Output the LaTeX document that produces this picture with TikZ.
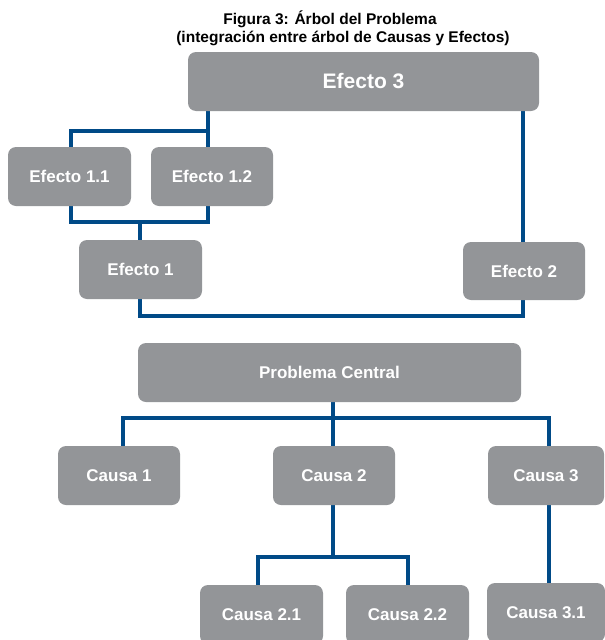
\documentclass[tikz,border=0pt]{standalone}
\usepackage{fontspec}
\setmainfont{Liberation Sans}
\usetikzlibrary{backgrounds}
\definecolor{boxgray}{RGB}{147,149,152}
\definecolor{lineblue}{RGB}{0,74,135}
\begin{document}
\begin{tikzpicture}[x=1pt,y=-1pt,
  box/.style={fill=boxgray, rounded corners=8pt, text=white,
    font=\bfseries\fontsize{17}{20}\selectfont, inner sep=0pt, minimum height=59pt},
  bigbox/.style={box, font=\bfseries\fontsize{21}{24}\selectfont},
  link/.style={draw=lineblue, line width=3.2pt},
  ttl/.style={font=\bfseries\fontsize{15.5}{18}\selectfont, anchor=base, inner sep=0pt}]
\useasboundingbox (0,0) rectangle (605,640);

\node[ttl] (t1) at (330,24) {Figura 3: Árbol del Problema};
\node[ttl] (t2) at (343,42.5) {(integración entre árbol de Causas y Efectos)};

\node[bigbox, minimum width=351pt] (e3) at (363.5,81.5) {Efecto 3};
\node[box, minimum width=123pt] (e11) at (69.5,176.5) {Efecto 1.1};
\node[box, minimum width=122pt] (e12) at (212,176.5) {Efecto 1.2};
\node[box, minimum width=123pt] (e1) at (140.5,269.5) {Efecto 1};
\node[box, minimum width=122pt, minimum height=58pt] (e2) at (524,271) {Efecto 2};

\node[box, minimum width=383pt] (pc) at (329.5,372.5) {Problema Central};
\node[box, minimum width=122pt] (c1) at (119,475.5) {Causa 1};
\node[box, minimum width=122pt] (c2) at (334,475.5) {Causa 2};
\node[box, minimum width=116pt] (c3) at (546,475.5) {Causa 3};
\node[box, minimum width=123pt] (c21) at (261.5,614.5) {Causa 2.1};
\node[box, minimum width=123pt] (c22) at (407.5,614.5) {Causa 2.2};
\node[box, minimum width=118pt] (c31) at (546,612.5) {Causa 3.1};

\begin{scope}[on background layer]
  \coordinate (jt) at (208,131);
  \coordinate (jtl) at (71,131);
  \draw[link] (e3.south -| jt) -- (e12.north -| jt);
  \draw[link] (jt) -- (jtl) -- (e11.north -| jtl);

  \coordinate (jm) at (140,222);
  \coordinate (jml) at (71,222);
  \coordinate (jmr) at (208,222);
  \draw[link] (e11.south -| jml) -- (jml) -- (jmr) -- (e12.south -| jmr);
  \draw[link] (jm) -- (e1.north -| jm);

  \coordinate (jbl) at (140,316);
  \coordinate (jbr) at (523,316);
  \draw[link] (e1.south -| jbl) -- (jbl) -- (jbr) -- (e3.south -| jbr);

  \coordinate (pj) at (333,418);
  \coordinate (pjl) at (123,418);
  \coordinate (pjr) at (549,418);
  \draw[link] (pc.south -| pj) -- (c2.north -| pj);
  \draw[link] (c1.north -| pjl) -- (pjl) -- (pjr) -- (c3.north -| pjr);

  \coordinate (cj) at (333,557);
  \coordinate (cjl) at (258,557);
  \coordinate (cjr) at (408,557);
  \draw[link] (c2.south -| cj) -- (cj);
  \draw[link] (c21.north -| cjl) -- (cjl) -- (cjr) -- (c22.north -| cjr);
  \draw[link] (c3.south -| pjr) -- (c31.north -| pjr);
\end{scope}
\end{tikzpicture}
\end{document}
